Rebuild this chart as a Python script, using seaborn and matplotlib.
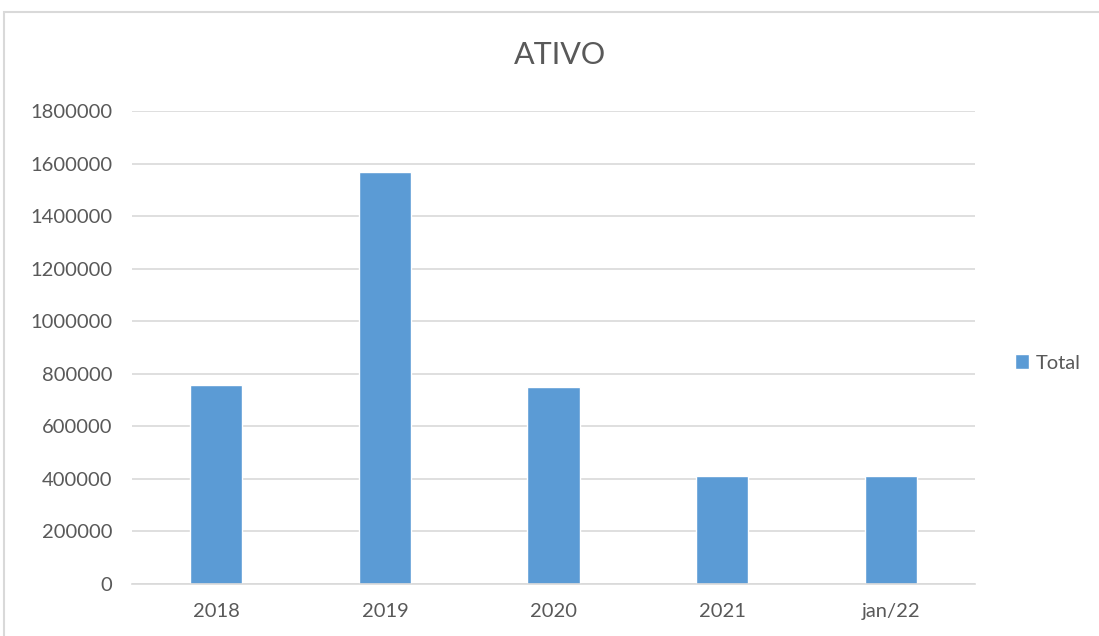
import matplotlib
matplotlib.use("Agg")
import matplotlib.pyplot as plt
import seaborn as sns
import pandas as pd
from matplotlib.patches import Rectangle

# dados
categorias = ["2018", "2019", "2020", "2021", "jan/22"]
valores = [758000, 1566000, 748000, 412000, 412000]
serie = ["Total"] * len(categorias)
yticks = [0, 200000, 400000, 600000, 800000, 1000000, 1200000, 1400000, 1600000, 1800000]

df = pd.DataFrame({"periodo": categorias, "valor": valores, "serie": serie})

sns.set_style("white")
plt.rcParams["font.family"] = ["Lato", "DejaVu Sans"]

W, H = 1099, 636
fig = plt.figure(figsize=(W / 100, H / 100), dpi=100)
ax = fig.add_axes([132 / W, 1 - 584 / H, (975 - 132) / W, (584 - 111) / H])

sns.barplot(data=df, x="periodo", y="valor", hue="serie", palette=["#5b9bd5"],
            width=0.31, ax=ax, saturation=1)

ax.set_ylim(0, 1800000)
ax.set_yticks(yticks)
ax.set_yticklabels([str(v) for v in yticks])
ax.yaxis.grid(True, color="#d9d9d9", linewidth=1.2)
ax.set_axisbelow(True)
for s in ["top", "right", "left"]:
    ax.spines[s].set_visible(False)
ax.spines["bottom"].set_color("#d9d9d9")
ax.spines["bottom"].set_linewidth(1.2)
ax.tick_params(axis="both", length=0, labelsize=14.5, colors="#595959")
ax.tick_params(axis="y", pad=14)
ax.tick_params(axis="x", pad=14)
ax.set_xlabel("")
ax.set_ylabel("")

fig.text(560 / W, 1 - 55 / H, "ATIVO", ha="center", va="center", fontsize=22, color="#595959")

ax.legend_.remove()
handles, labels = ax.get_legend_handles_labels()
fig.legend(handles, labels, loc="center left", bbox_to_anchor=(997 / W, 1 - 363 / H),
           frameon=False, fontsize=14.5, handlelength=0.7, handleheight=0.7,
           handletextpad=0.3, labelcolor="#595959")

# moldura do gráfico
fig.patches.append(Rectangle((3.5 / W, -0.1), 1.2, 1 - 11.5 / H + 0.1,
                             transform=fig.transFigure, fill=False,
                             edgecolor="#d9d9d9", linewidth=1.5))

fig.savefig("out.png", dpi=100)
